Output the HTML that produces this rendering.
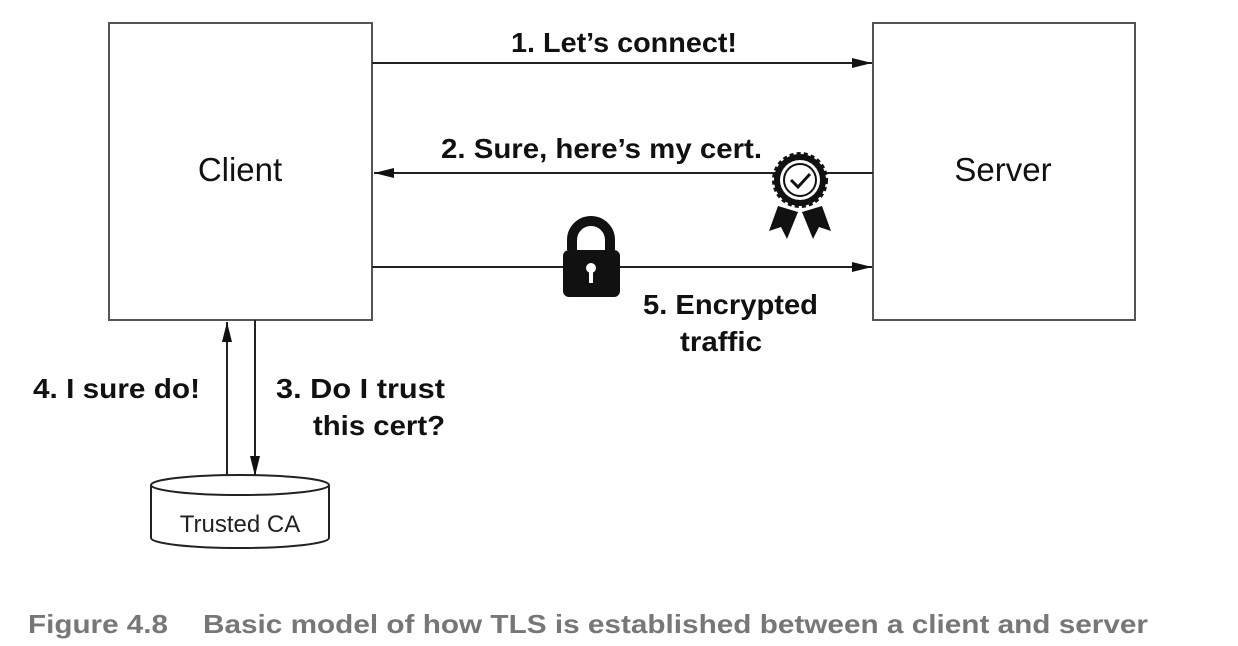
<!DOCTYPE html><html><head><style>body{margin:0;background:#fff}svg{display:block}</style></head><body>
<svg width="1238" height="646" viewBox="0 0 1238 646" xmlns="http://www.w3.org/2000/svg" font-family="Liberation Sans, sans-serif">
<defs>
<marker id="b" markerWidth="20" markerHeight="10" refX="20" refY="5" orient="auto" markerUnits="userSpaceOnUse"><path d="M0,0 L20,5 L0,10z" fill="#111"/></marker></defs>
<g fill="none" stroke="#555" stroke-width="2">
<rect x="109" y="23" width="263" height="297"/>
<rect x="873" y="23" width="262" height="297"/>
</g>
<g stroke="#222" stroke-width="2">
<line x1="372" y1="63" x2="872" y2="63" marker-end="url(#b)"/>
<line x1="873" y1="173" x2="374" y2="173" marker-end="url(#b)"/>
<line x1="372" y1="267" x2="872" y2="267" marker-end="url(#b)"/>
<line x1="227" y1="476" x2="227" y2="322" marker-end="url(#b)"/>
<line x1="255" y1="320" x2="255" y2="476" marker-end="url(#b)"/>
</g>
<g fill="#fff" stroke="#222" stroke-width="2">
<path d="M151,485 L151,538 A89,10 0 0 0 329,538 L329,485"/>
<ellipse cx="240" cy="485" rx="89" ry="10"/>
</g>
<text x="240" y="532" font-size="24" text-anchor="middle" fill="#222">Trusted CA</text>
<text x="240" y="181" font-size="33" text-anchor="middle" fill="#111">Client</text>
<text x="1003" y="181" font-size="33" text-anchor="middle" fill="#111">Server</text>
<g font-weight="bold" font-size="28" fill="#111">
<text x="511" y="52" textLength="226" lengthAdjust="spacingAndGlyphs">1. Let’s connect!</text>
<text x="441" y="158" textLength="321" lengthAdjust="spacingAndGlyphs">2. Sure, here’s my cert.</text>
<text x="643" y="314" textLength="175" lengthAdjust="spacingAndGlyphs">5. Encrypted</text>
<text x="680" y="351" textLength="82" lengthAdjust="spacingAndGlyphs">traffic</text>
<text x="33" y="398" textLength="167" lengthAdjust="spacingAndGlyphs">4. I sure do!</text>
<text x="276" y="398" textLength="169" lengthAdjust="spacingAndGlyphs">3. Do I trust</text>
<text x="313" y="435" textLength="132" lengthAdjust="spacingAndGlyphs">this cert?</text>
</g>
<g font-size="26" font-weight="bold" fill="#777">
<text x="28" y="633" textLength="140" lengthAdjust="spacingAndGlyphs">Figure 4.8</text>
<text x="203" y="633" textLength="945" lengthAdjust="spacingAndGlyphs">Basic model of how TLS is established between a client and server</text>
</g>
<g>
<path d="M778,206 L769,231 L781,227 L787,239 L798,212 Z M822,206 L831,231 L819,227 L813,239 L802,212 Z" fill="#111"/>
<circle cx="800" cy="180" r="26" fill="#111" stroke="#111" stroke-width="4" stroke-dasharray="4 3"/>
<circle cx="800" cy="180" r="20" fill="#fff"/>
<circle cx="800" cy="180" r="16" fill="none" stroke="#111" stroke-width="2"/>
<path d="M791,180 L798,187 L810,174" fill="none" stroke="#111" stroke-width="3"/>
</g>
<g>
<path d="M572,250 L572,240 A19,19 0 0 1 610,240 L610,250" fill="none" stroke="#111" stroke-width="10"/>
<rect x="563" y="250" width="57" height="47" rx="6" fill="#111"/>
<circle cx="591" cy="268" r="5" fill="#fff"/>
<rect x="589" y="268" width="4" height="15" fill="#fff"/>
</g>
</svg>
</body></html>
